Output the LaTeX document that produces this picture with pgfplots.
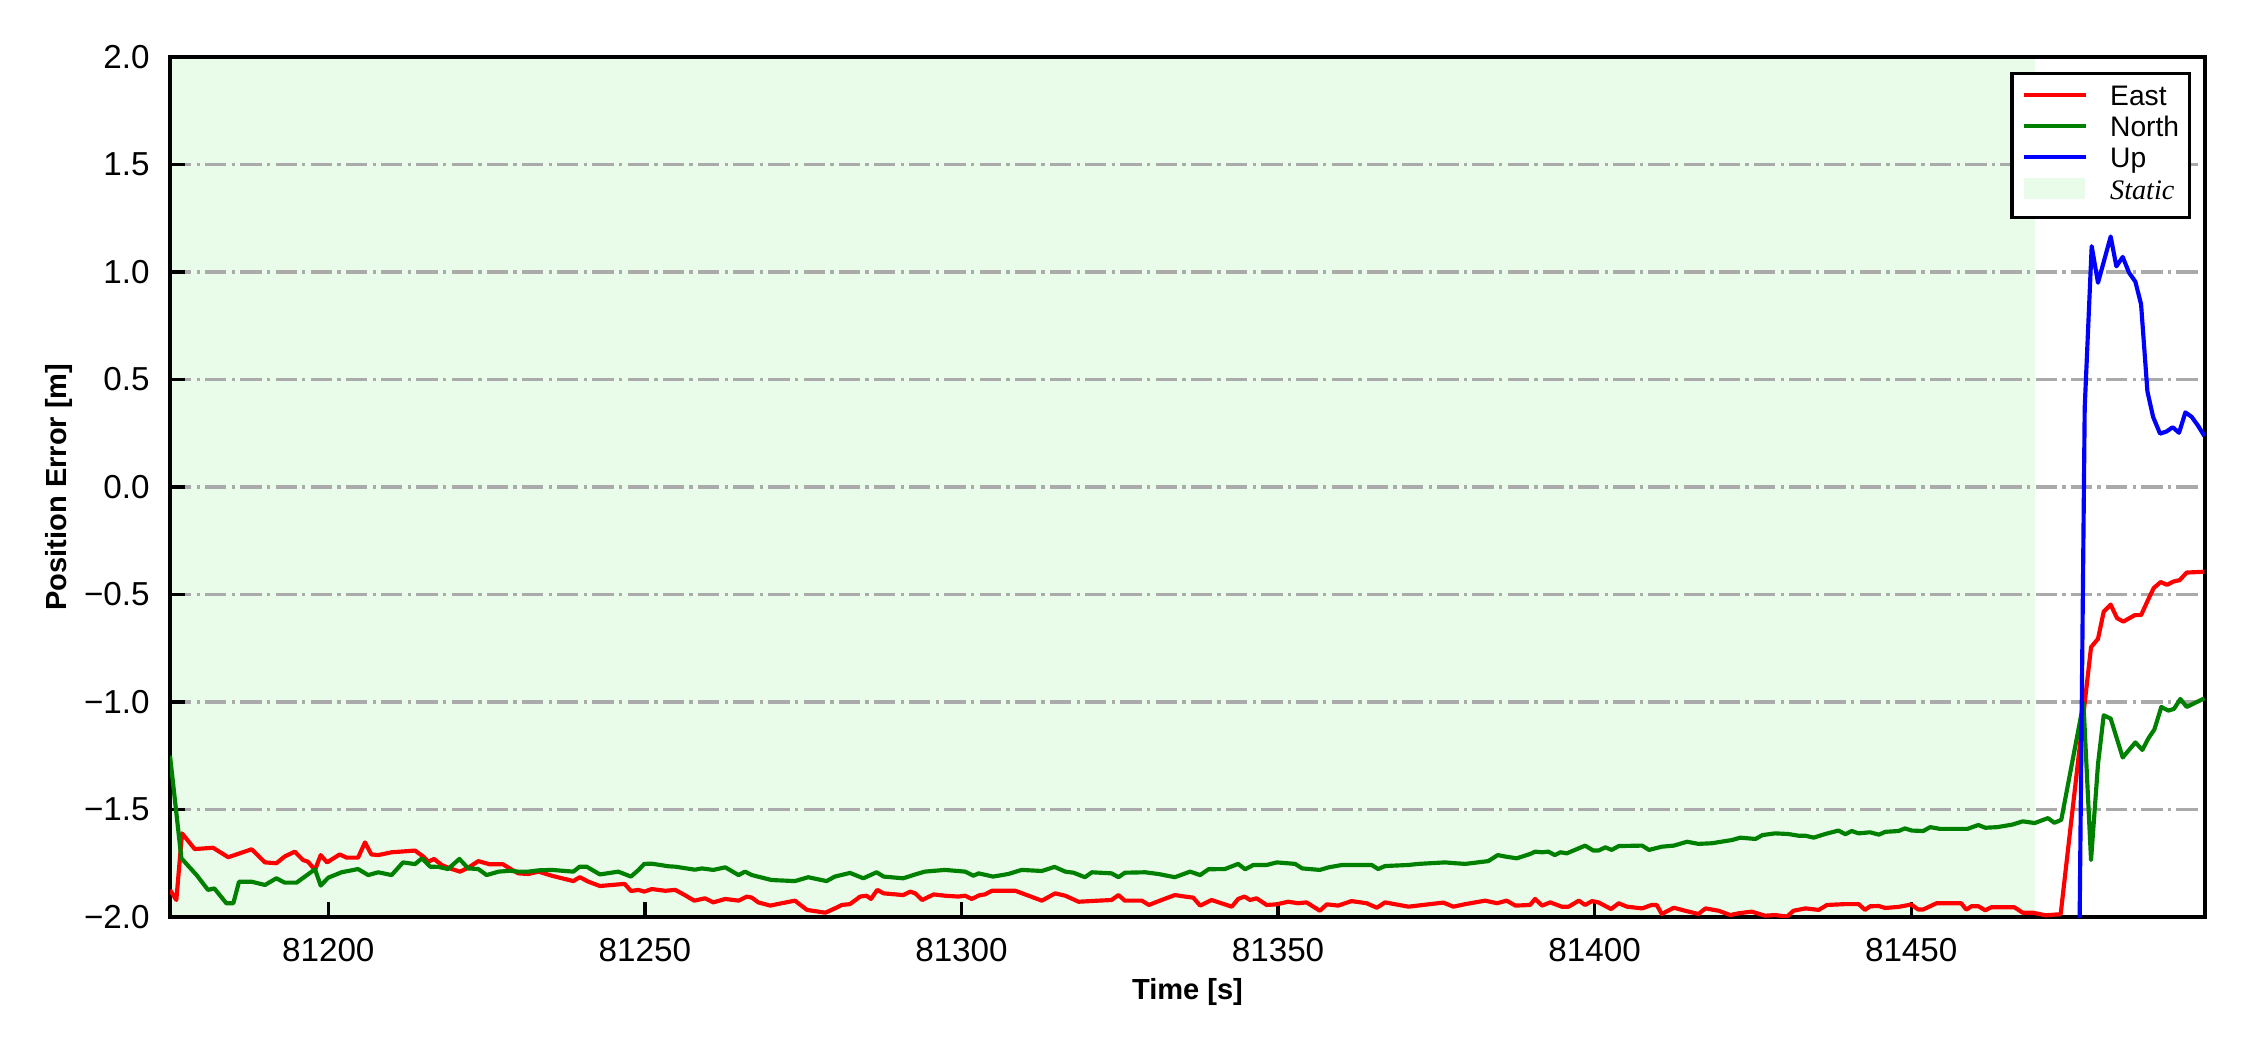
\documentclass[border=0pt]{standalone}
\usepackage{fontspec}
\setmainfont{Liberation Sans}
\newfontfamily\serifit{Liberation Serif}
\usepackage{pgfplots}
\pgfplotsset{compat=1.18}
\definecolor{staticgreen}{RGB}{233,252,233}
\definecolor{gridgray}{RGB}{170,170,170}
\definecolor{mplgreen}{RGB}{0,128,0}
\definecolor{mplred}{RGB}{255,0,0}
\definecolor{mplblue}{RGB}{0,0,255}

\pgfplotstableread{
t v
81175.0 -1.874
81176.0 -1.921
81176.9 -1.611
81178.9 -1.684
81181.8 -1.678
81184.2 -1.722
81187.9 -1.685
81190.0 -1.746
81191.8 -1.750
81193.1 -1.719
81194.7 -1.696
81196.0 -1.735
81196.8 -1.743
81197.9 -1.781
81198.8 -1.712
81199.8 -1.746
81201.8 -1.709
81202.9 -1.724
81204.7 -1.724
81205.8 -1.653
81206.8 -1.709
81207.9 -1.712
81210.0 -1.699
81213.7 -1.691
81215.0 -1.719
81215.8 -1.743
81216.7 -1.730
81217.9 -1.758
81219.2 -1.774
81220.8 -1.789
81222.1 -1.771
81223.7 -1.740
81225.5 -1.755
81227.6 -1.755
81228.7 -1.775
81230.0 -1.797
81231.6 -1.800
81233.2 -1.789
81235.3 -1.808
81238.7 -1.833
81239.7 -1.815
81241.1 -1.836
81242.9 -1.856
81244.8 -1.851
81246.8 -1.846
81247.8 -1.879
81249.0 -1.874
81249.9 -1.882
81251.1 -1.870
81253.2 -1.878
81254.8 -1.874
81256.3 -1.898
81257.8 -1.924
81259.5 -1.913
81260.8 -1.932
81262.7 -1.916
81264.8 -1.924
81266.1 -1.905
81266.9 -1.910
81267.9 -1.932
81269.8 -1.947
81271.6 -1.936
81273.7 -1.924
81275.6 -1.967
81278.5 -1.980
81280.0 -1.960
81281.1 -1.944
81282.4 -1.940
81284.0 -1.905
81285.0 -1.901
81285.7 -1.916
81286.7 -1.874
81287.7 -1.890
81290.8 -1.898
81291.9 -1.882
81292.7 -1.890
81293.8 -1.921
81295.6 -1.895
81297.4 -1.901
81299.5 -1.905
81300.6 -1.901
81301.6 -1.916
81302.9 -1.898
81303.7 -1.895
81304.8 -1.878
81308.5 -1.878
81310.6 -1.901
81312.7 -1.924
81314.8 -1.890
81316.4 -1.901
81318.5 -1.929
81321.6 -1.924
81323.7 -1.921
81324.8 -1.898
81325.8 -1.924
81328.5 -1.924
81329.6 -1.944
81331.6 -1.921
81333.7 -1.898
81335.3 -1.905
81336.6 -1.910
81337.7 -1.947
81339.5 -1.921
81342.7 -1.952
81343.7 -1.916
81344.7 -1.905
81345.6 -1.921
81346.6 -1.913
81348.2 -1.944
81349.8 -1.941
81351.6 -1.929
81353.2 -1.936
81354.5 -1.932
81356.6 -1.971
81357.7 -1.941
81359.5 -1.947
81361.6 -1.926
81364.0 -1.936
81365.6 -1.957
81366.9 -1.932
81370.6 -1.952
81376.1 -1.933
81377.7 -1.952
81379.6 -1.940
81382.7 -1.924
81384.6 -1.936
81386.1 -1.924
81387.5 -1.947
81389.8 -1.944
81390.6 -1.916
81391.7 -1.947
81393.0 -1.932
81394.8 -1.952
81395.9 -1.952
81397.5 -1.924
81398.5 -1.944
81399.6 -1.926
81400.6 -1.932
81402.6 -1.963
81403.8 -1.936
81405.1 -1.952
81407.5 -1.960
81409.0 -1.944
81409.8 -1.944
81410.6 -1.986
81412.5 -1.957
81414.3 -1.971
81416.4 -1.986
81417.5 -1.960
81419.6 -1.971
81421.4 -1.991
81422.7 -1.983
81424.8 -1.975
81426.9 -1.994
81428.5 -1.991
81430.4 -1.998
81431.4 -1.971
81433.3 -1.960
81435.4 -1.967
81436.7 -1.944
81439.6 -1.940
81441.7 -1.940
81442.7 -1.967
81443.5 -1.950
81444.9 -1.949
81445.9 -1.958
81448.0 -1.953
81450.0 -1.942
81451.1 -1.965
81451.9 -1.965
81454.0 -1.936
81456.2 -1.936
81457.9 -1.936
81458.7 -1.966
81459.5 -1.950
81460.6 -1.950
81461.7 -1.969
81462.6 -1.955
81466.3 -1.955
81467.6 -1.980
81469.2 -1.980
81471.2 -1.992
81473.6 -1.987
81478.4 -0.745
81479.5 -0.706
81480.4 -0.580
81481.5 -0.547
81482.5 -0.610
81483.5 -0.626
81485.3 -0.596
81486.3 -0.596
81487.4 -0.525
81488.3 -0.470
81489.4 -0.442
81490.4 -0.455
81491.4 -0.440
81492.4 -0.433
81493.5 -0.398
81496.3 -0.394
}\eastdata

\pgfplotstableread{
t v
81175.0 -1.250
81176.8 -1.727
81179.2 -1.805
81181.0 -1.874
81182.0 -1.867
81183.9 -1.936
81185.0 -1.936
81185.9 -1.836
81187.9 -1.836
81190.0 -1.851
81191.8 -1.820
81193.1 -1.840
81195.0 -1.840
81197.9 -1.778
81198.8 -1.854
81200.0 -1.817
81202.1 -1.792
81204.7 -1.777
81206.3 -1.805
81207.9 -1.792
81210.0 -1.805
81211.8 -1.746
81213.7 -1.754
81214.8 -1.727
81216.1 -1.766
81217.4 -1.767
81218.9 -1.777
81220.7 -1.730
81222.1 -1.774
81223.7 -1.777
81225.0 -1.805
81226.9 -1.789
81228.7 -1.785
81230.0 -1.789
81231.6 -1.789
81233.2 -1.783
81235.3 -1.781
81238.7 -1.789
81239.7 -1.766
81240.8 -1.766
81242.9 -1.802
81245.8 -1.789
81247.8 -1.812
81249.0 -1.781
81249.9 -1.753
81251.1 -1.752
81253.7 -1.764
81254.8 -1.766
81257.9 -1.780
81259.0 -1.774
81260.8 -1.781
81262.7 -1.769
81264.8 -1.805
81265.8 -1.789
81266.9 -1.805
81270.0 -1.828
81273.7 -1.833
81275.8 -1.815
81278.7 -1.833
81280.0 -1.812
81282.4 -1.795
81284.5 -1.820
81286.6 -1.792
81287.7 -1.812
81290.8 -1.820
81292.7 -1.802
81294.2 -1.789
81297.4 -1.781
81300.6 -1.789
81301.9 -1.808
81302.7 -1.797
81305.0 -1.812
81307.4 -1.800
81309.5 -1.781
81312.7 -1.786
81314.7 -1.767
81316.4 -1.789
81317.7 -1.794
81319.5 -1.815
81320.6 -1.792
81323.7 -1.797
81324.8 -1.815
81325.8 -1.794
81329.0 -1.792
81331.1 -1.800
81333.7 -1.815
81336.1 -1.789
81337.7 -1.805
81339.0 -1.778
81341.6 -1.777
81343.7 -1.753
81344.8 -1.778
81346.1 -1.758
81348.2 -1.758
81349.8 -1.746
81352.7 -1.753
81353.8 -1.774
81356.6 -1.781
81358.0 -1.769
81360.1 -1.758
81364.8 -1.758
81365.8 -1.777
81366.9 -1.763
81370.6 -1.758
81372.2 -1.753
81376.4 -1.746
81378.0 -1.750
81379.6 -1.753
81383.2 -1.740
81384.7 -1.712
81385.9 -1.719
81387.7 -1.727
81389.8 -1.707
81390.6 -1.696
81391.7 -1.699
81392.7 -1.696
81393.7 -1.712
81394.6 -1.699
81395.6 -1.704
81398.5 -1.668
81399.8 -1.691
81400.6 -1.691
81401.7 -1.676
81402.7 -1.688
81403.8 -1.670
81407.5 -1.668
81408.6 -1.688
81410.6 -1.673
81412.5 -1.668
81414.6 -1.650
81416.4 -1.660
81418.5 -1.657
81421.7 -1.642
81423.0 -1.631
81425.4 -1.637
81426.5 -1.619
81428.5 -1.611
81430.6 -1.614
81432.2 -1.622
81433.3 -1.622
81434.6 -1.631
81436.4 -1.614
81438.5 -1.598
81439.6 -1.615
81440.6 -1.600
81441.7 -1.611
81443.5 -1.606
81444.9 -1.617
81445.9 -1.604
81448.0 -1.600
81449.0 -1.588
81450.1 -1.598
81451.9 -1.600
81453.0 -1.582
81454.5 -1.590
81458.9 -1.590
81460.6 -1.572
81461.7 -1.585
81463.6 -1.582
81466.0 -1.570
81467.6 -1.555
81469.5 -1.563
81471.6 -1.540
81472.6 -1.562
81473.7 -1.548
81477.2 -1.005
81478.4 -1.735
81479.5 -1.288
81480.4 -1.062
81481.5 -1.077
81483.4 -1.258
81485.4 -1.188
81486.5 -1.223
81487.5 -1.167
81488.4 -1.128
81489.5 -1.023
81490.6 -1.040
81491.5 -1.032
81492.5 -0.986
81493.5 -1.023
81496.3 -0.983
}\northdata

\pgfplotstableread{
t v
81476.4 -2.600
81477.4 0.370
81478.5 1.120
81479.5 0.950
81481.5 1.165
81482.4 1.026
81483.4 1.070
81484.4 0.997
81485.4 0.955
81486.3 0.850
81487.3 0.445
81488.2 0.326
81489.3 0.248
81490.3 0.258
81491.3 0.278
81492.3 0.252
81493.3 0.347
81494.3 0.326
81495.3 0.285
81496.3 0.237
}\updata

\pgfplotstableread{
t v
81175 -2
81175 2
81469.5 2
81469.5 -2
}\staticdata

\begin{document}
\begin{tikzpicture}
\begin{axis}[
  at={(0,0)}, anchor=south west,
  scale only axis, width=488.4bp, height=206.4bp,
  set layers,
  xmin=81175, xmax=81496.4, ymin=-2, ymax=2,
  scaled x ticks=false, scaled y ticks=false,
  xtick={81200,81250,81300,81350,81400,81450},
  xticklabels={81200,81250,81300,81350,81400,81450},
  ytick={-2,-1.5,-1,-0.5,0,0.5,1,1.5,2},
  yticklabels={−2.0,−1.5,−1.0,−0.5,0.0,0.5,1.0,1.5,2.0},
  tick align=inside, tick pos=left,
  major tick length=3.5pt,
  tick style={black, line width=0.8pt},
  axis line style={black, line width=0.8pt},
  ymajorgrids,
  major grid style={gridgray, line width=0.8pt, dash pattern=on 5.12pt off 1.28pt on 0.8pt off 1.28pt},
  tick label style={font=\fontsize{8}{9.6}\selectfont, inner sep=0pt},
  xticklabel style={yshift=-5bp},
  yticklabel style={xshift=-4.7bp},
  label style={font=\fontsize{7}{8.4}\selectfont\bfseries},
  xlabel={Time [s]},
  xlabel style={at={(axis description cs:0.5,-0.0954)}, anchor=base},
  ylabel={Position Error [m]},
  ylabel style={at={(axis description cs:-0.0545,0.5)}, anchor=center},
  legend cell align=left,
  legend style={at={(1,1)}, anchor=north east, xshift=-3.4bp, yshift=-3.6bp,
    draw=black, line width=0.8pt, fill=white,
    inner xsep=2.4bp, inner ysep=2.3bp, row sep=0pt, column sep=5.3bp,
    font=\fontsize{6.8}{8}\selectfont,
    nodes={inner sep=0pt, text height=5.3bp, text depth=2.2bp}},
  legend image code/.code={\draw[#1] (0bp,1bp) -- (14.9bp,1bp);},
]
\addplot[fill=staticgreen, draw=none, on layer=axis background, forget plot]
  table[x=t, y=v] {\staticdata} -- cycle;
\addplot[mplred, line width=1pt, line join=round] table[x=t, y=v] {\eastdata};
\addlegendentry{East}
\addplot[mplgreen, line width=1pt, line join=round] table[x=t, y=v] {\northdata};
\addlegendentry{North}
\addplot[mplblue, line width=1pt, line join=round] table[x=t, y=v] {\updata};
\addlegendentry{Up}
\addlegendimage{legend image code/.code={\fill[staticgreen] (0.5bp,-1.05bp) rectangle (14.2bp,3.05bp);}}
\addlegendentry{\serifit\itshape Static}
\end{axis}
\path (-40.8bp,-31.92bp) rectangle (499.2bp,220.08bp);
\end{tikzpicture}
\end{document}
